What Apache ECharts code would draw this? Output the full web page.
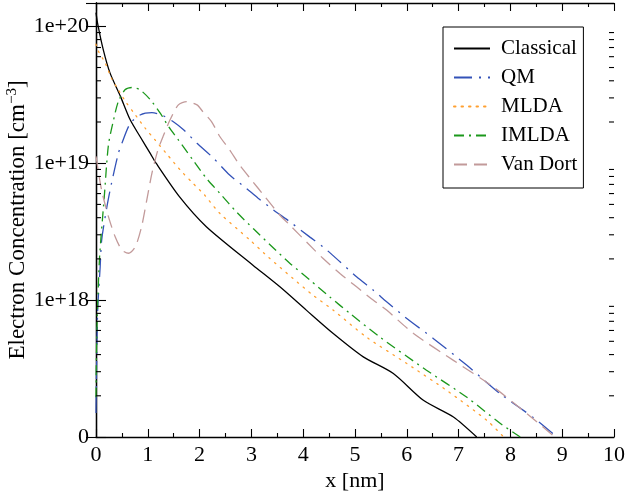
<!DOCTYPE html>
<html>
<head>
<meta charset="utf-8">
<script src="https://cdn.jsdelivr.net/npm/echarts@6/dist/echarts.min.js"></script>
<style>
html,body{margin:0;padding:0;background:#fff;}
#chart{width:626px;height:498px;}
</style>
</head>
<body>
<div id="chart"></div>
<script>
// ---- data (x in nm, concentration in cm^-3) ----
const seriesNames = ['Classical', 'QM', 'MLDA', 'IMLDA', 'Van Dort'];

const classicalX = [0, 0.03, 0.14, 0.27, 0.47, 0.66, 0.85, 1.05, 1.16, 1.61, 2.13, 3.03, 3.55, 4.06, 4.58, 5.16, 5.74, 6.32, 6.90, 7.35];
const classicalY = [1.26e20, 1.057e20, 6.76e19, 4.57e19, 3.09e19, 2.075e19, 1.567e19, 1.175e19, 1.0e19, 5.70e18, 3.44e18, 1.80e18, 1.25e18, 8.45e17, 5.70e17, 3.85e17, 2.91e17, 1.854e17, 1.40e17, 1.0e17];

const qmX = [0, 0.03, 0.08, 0.11, 0.21, 0.30, 0.43, 0.50, 0.66, 0.85, 1.08, 1.27, 1.50, 1.69, 1.95, 2.26, 2.58, 2.90, 3.13, 3.42, 3.74, 4.13, 4.38, 4.71, 5.03, 5.35, 5.61, 5.96, 6.51, 7.16, 7.80, 8.45, 8.87];
const qmY = [1.5e17, 8.0e17, 1.74e18, 2.75e18, 4.79e18, 7.15e18, 1.175e19, 1.40e19, 1.95e19, 2.25e19, 2.34e19, 2.25e19, 2.0e19, 1.754e19, 1.40e19, 1.096e19, 8.2e18, 6.56e18, 5.55e18, 4.57e18, 3.74e18, 2.884e18, 2.455e18, 1.905e18, 1.479e18, 1.183e18, 9.73e17, 7.55e17, 5.25e17, 3.34e17, 2.075e17, 1.38e17, 1.02e17];

const mldaX = [0, 0.03, 0.18, 0.30, 0.43, 0.59, 0.76, 0.95, 1.14, 1.36, 1.65, 1.87, 2.09, 2.39, 2.97, 3.34, 3.80, 4.19, 4.58, 5.22, 6.0, 6.77, 7.55, 7.87];
const mldaY = [7.41e19, 6.76e19, 5.37e19, 4.17e19, 3.436e19, 2.754e19, 2.25e19, 1.803e19, 1.479e19, 1.175e19, 8.71e18, 7.145e18, 5.888e18, 4.305e18, 2.748e18, 2.04e18, 1.442e18, 1.086e18, 8.45e17, 5.37e17, 3.44e17, 2.19e17, 1.318e17, 1.0e17];

const imldaX = [0, 0.01, 0.03, 0.07, 0.16, 0.24, 0.34, 0.43, 0.56, 0.69, 0.85, 1.05, 1.24, 1.40, 1.59, 1.87, 2.13, 2.39, 2.72, 3.05, 3.40, 3.74, 4.13, 4.51, 4.90, 5.48, 6.38, 7.16, 7.8, 8.19];
const imldaY = [1.95e17, 4.27e17, 8.91e17, 2.09e18, 5.70e18, 1.36e19, 2.075e19, 2.818e19, 3.436e19, 3.573e19, 3.436e19, 2.904e19, 2.323e19, 1.854e19, 1.479e19, 1.057e19, 7.76e18, 6.03e18, 4.37e18, 3.29e18, 2.455e18, 1.862e18, 1.40e18, 1.057e18, 8.0e17, 5.37e17, 3.076e17, 1.95e17, 1.26e17, 1.0e17];

const vanDortX = [0, 0.11, 0.24, 0.37, 0.50, 0.63, 0.76, 0.88, 0.98, 1.08, 1.19, 1.30, 1.43, 1.59, 1.75, 1.95, 2.06, 2.23, 2.39, 2.58, 2.77, 3.0, 3.26, 3.55, 3.74, 4.06, 4.38, 4.71, 5.03, 5.35, 5.61, 6.13, 6.90, 7.67, 8.32, 8.83];
const vanDortY = [1.12e19, 6.31e18, 4.07e18, 2.90e18, 2.32e18, 2.20e18, 2.455e18, 3.436e18, 5.37e18, 8.45e18, 1.23e19, 1.585e19, 2.075e19, 2.667e19, 2.818e19, 2.667e19, 2.388e19, 2.014e19, 1.567e19, 1.25e19, 9.73e18, 7.55e18, 5.70e18, 4.17e18, 3.54e18, 2.667e18, 2.02e18, 1.567e18, 1.25e18, 1.0e18, 8.45e17, 5.70e17, 3.63e17, 2.32e17, 1.48e17, 1.02e17];

// minor tick values of the log axis
const yMinorTicks = [2e17,3e17,4e17,5e17,6e17,7e17,8e17,9e17,
                     2e18,3e18,4e18,5e18,6e18,7e18,8e18,9e18,
                     2e19,3e19,4e19,5e19,6e19,7e19,8e19,9e19];

// ---- styles ----
const FONT = '"Liberation Serif", "DejaVu Serif", serif';
const colors = ['#000000', '#3352b8', '#ffa030', '#1b981b', '#c29a9a'];
const dashes = ['solid', [18, 7, 2, 7], [1.5, 6], [10, 5, 2, 5], [13, 7]];

function zip(xs, ys) { return xs.map((x, i) => [x, ys[i]]); }
const allData = [zip(classicalX, classicalY), zip(qmX, qmY), zip(mldaX, mldaY), zip(imldaX, imldaY), zip(vanDortX, vanDortY)];

const chart = echarts.init(document.getElementById('chart'), null, {renderer: 'canvas'});

function yFmt(v) {
  const l = Math.log10(v);
  const e = Math.round(l);
  if (Math.abs(l - e) > 1e-6) return '';
  if (e === 17) return '0';
  return '1e+' + e;
}

const axisLineStyle = {color: '#000', width: 1.3};

const lineSeries = seriesNames.map((name, i) => ({
  name: name,
  type: 'line',
  data: allData[i],
  showSymbol: false,
  symbol: 'none',
  smooth: 0.25,
  clip: true,
  lineStyle: {color: colors[i], width: 1.3, type: dashes[i], cap: i === 2 ? 'round' : 'butt'},
  itemStyle: {color: colors[i]},
  z: 3
}));

const minorSeries = {
  type: 'custom',
  silent: true,
  data: yMinorTicks.map(v => [0, v]),
  clip: false,
  renderItem: function (params, api) {
    const v = api.value(1);
    const pL = api.coord([0, v]);
    const pR = api.coord([10, v]);
    const st = {stroke: '#000', lineWidth: 1.1};
    return {
      type: 'group',
      children: [
        {type: 'line', shape: {x1: pL[0], y1: pL[1], x2: pL[0] + 5, y2: pL[1]}, style: st},
        {type: 'line', shape: {x1: pR[0], y1: pR[1], x2: pR[0] - 5, y2: pR[1]}, style: st}
      ]
    };
  },
  z: 4
};

const xAxisBase = {
  type: 'value', min: 0, max: 10, interval: 1,
  axisLine: {show: true, lineStyle: axisLineStyle},
  axisTick: {show: true, inside: true, length: 8, lineStyle: {color: '#000', width: 1.1}},
  minorTick: {show: true, splitNumber: 2, length: 4, lineStyle: {color: '#000', width: 1.1}},
  splitLine: {show: false}
};
const yAxisBase = {
  type: 'log', logBase: 10, min: 1e17, max: 1.48e20,
  axisLine: {show: true, lineStyle: axisLineStyle},
  axisTick: {show: true, inside: true, length: 10, lineStyle: {color: '#000', width: 1.1}},
  splitLine: {show: false}
};

const option = {
  animation: false,
  backgroundColor: '#fff',
  grid: {left: 96, right: 12, top: 3, bottom: 61, containLabel: false, outerBoundsMode: 'none'},
  legend: {
    data: seriesNames,
    orient: 'vertical',
    left: 443, top: 27,
    backgroundColor: '#fff',
    borderColor: '#000', borderWidth: 1, borderRadius: 0,
    padding: [11, 6, 13, 10],
    itemWidth: 36, itemHeight: 14, itemGap: 8,
    itemStyle: {opacity: 0, color: 'rgba(0,0,0,0)', borderWidth: 0},
    textStyle: {fontFamily: FONT, fontSize: 21, color: '#000', lineHeight: 21, padding: [0, 0, 0, 6]}
  },
  xAxis: [
    Object.assign({}, xAxisBase, {
      position: 'bottom',
      name: 'x [nm]', nameLocation: 'middle', nameGap: 33, nameMoveOverlap: false,
      nameTextStyle: {fontFamily: FONT, fontSize: 22, color: '#000'},
      axisLabel: {show: true, margin: 7, fontFamily: FONT, fontSize: 22, color: '#000'}
    }),
    Object.assign({}, xAxisBase, {position: 'top', axisLabel: {show: false}})
  ],
  yAxis: [
    Object.assign({}, yAxisBase, {
      position: 'left',
      name: '{a|Electron Concentration [cm}{s|−3}{a|]}',
      nameLocation: 'middle', nameGap: 66, nameRotate: 90, nameMoveOverlap: false,
      nameTextStyle: {
        fontFamily: FONT, fontSize: 23, color: '#000',
        rich: {
          a: {fontFamily: FONT, fontSize: 23, color: '#000'},
          s: {fontFamily: FONT, fontSize: 15, color: '#000', verticalAlign: 'top', padding: [0, 0, 10, 0]}
        }
      },
      axisLabel: {show: true, margin: 7, fontFamily: FONT, fontSize: 22, color: '#000', formatter: yFmt, showMaxLabel: false}
    }),
    Object.assign({}, yAxisBase, {position: 'right', axisLabel: {show: false}})
  ],
  series: lineSeries.concat([minorSeries])
};

chart.setOption(option);
</script>
</body>
</html>
